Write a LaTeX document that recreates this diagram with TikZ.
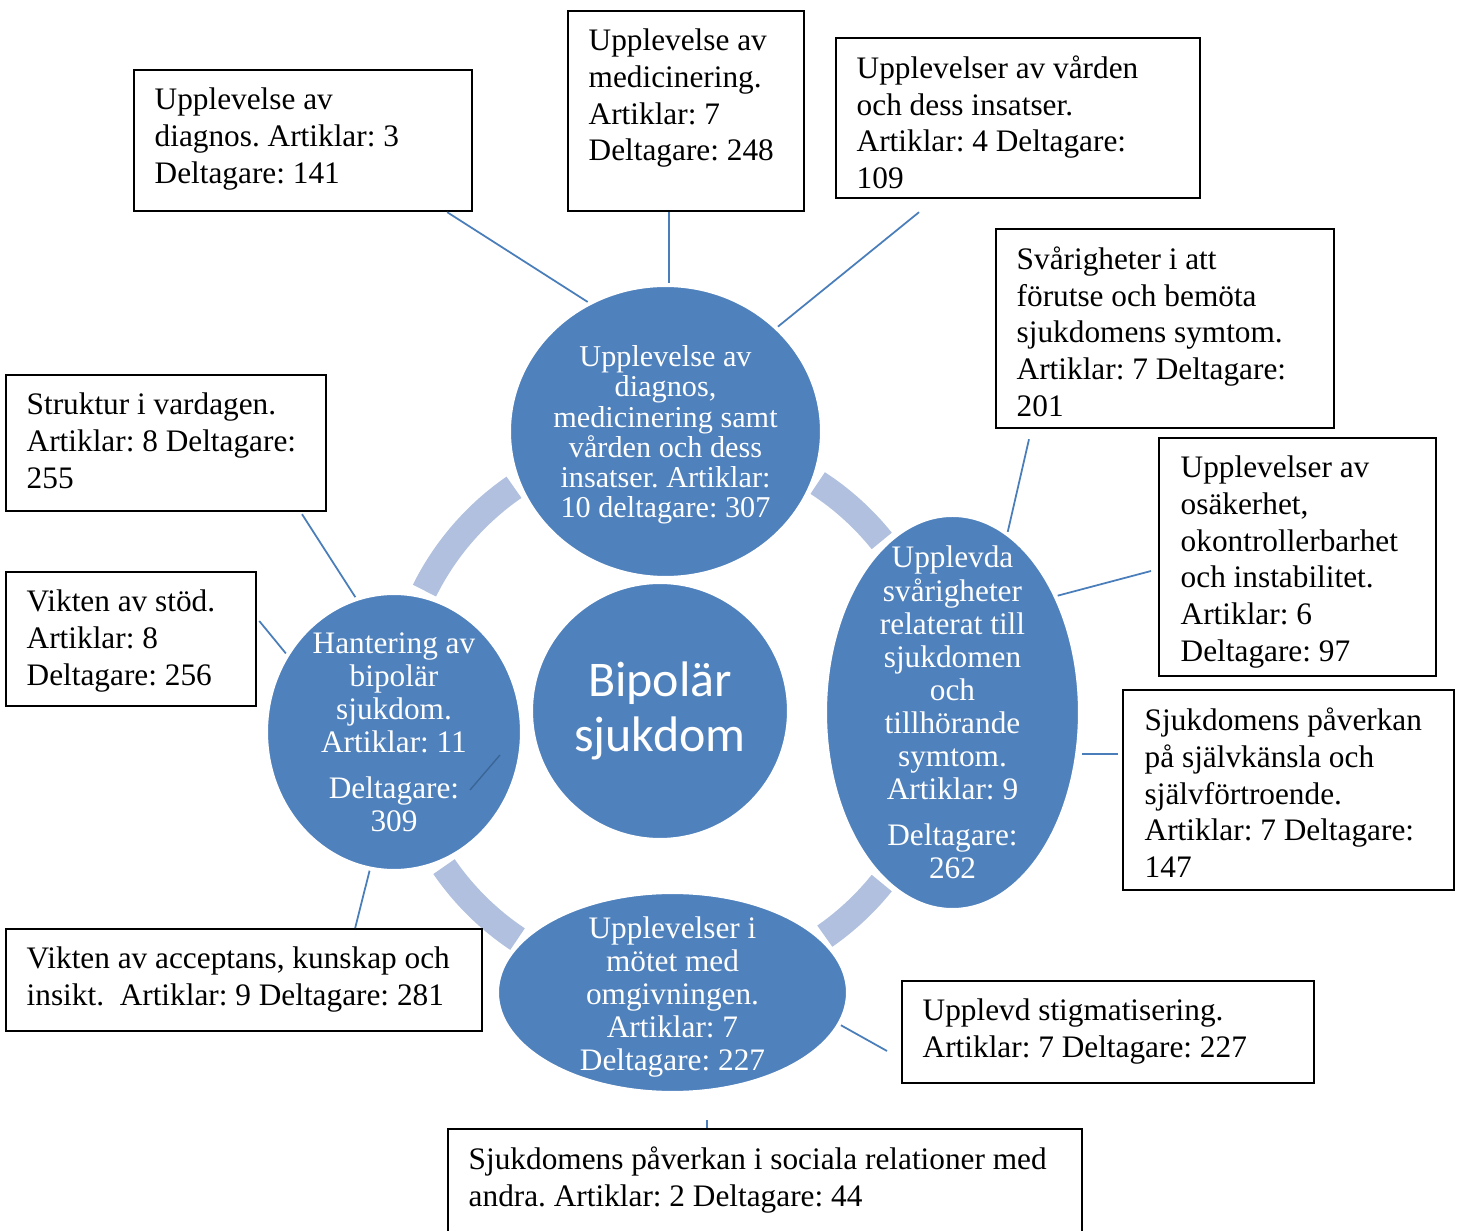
\documentclass[tikz,border=0pt]{standalone}
\usepackage{fontspec}
\setmainfont{Liberation Serif}
\newfontfamily\calibri{Carlito}
\usetikzlibrary{shapes.geometric}
\frenchspacing

\definecolor{circblue}{RGB}{79,129,189}
\definecolor{ringblue}{RGB}{176,192,222}
\definecolor{linkblue}{RGB}{74,126,187}

\tikzset{
    box/.style={draw=black, line width=0.6pt, anchor=north west, inner sep=0pt},
    boxtext/.style={anchor=north west, inner sep=0pt, align=left,
        font=\fontsize{8.9}{10.47}\selectfont, execute at begin node=\strut},
    bubble/.style={ellipse, fill=circblue, draw=white, line width=1.2pt, inner sep=0pt},
    bubbletext/.style={text=white, align=center, inner sep=0pt,
        font=\fontsize{8.9}{9.4}\selectfont},
    link/.style={draw=linkblue, line width=0.5pt},
    ring/.style={draw=ringblue, line width=7.4pt},
}

\begin{document}
\begin{tikzpicture}[x=0.01cm, y=-0.01cm]
        \useasboundingbox (0,0) rectangle (1457,1231);
        \clip (0,0) rectangle (1457,1231);

        % ring pieces between the bubbles
        \coordinate (ring) at (669,712);
        \foreach \a/\b in {124.6/153.6, 38.8/57, 214.5/236.3, 304.8/321.2} {
                \draw[ring] ([shift={(-\a:273)}]ring) arc[start angle=-\a, end angle=-\b, radius=273];
            }

        % bubbles
        \node[bubble, minimum width=3.13cm, minimum height=2.93cm] (upp) at (665.5,431.5) {};
        \node[bubbletext, font=\fontsize{8.6}{8.6}\selectfont] (uppt) at ([yshift=-1pt]upp) {Upplevelse av\\diagnos,\\medicinering samt\\vården och dess\\insatser. Artiklar:\\10 deltagare: 307};
        \node[bubble, minimum width=2.56cm, minimum height=2.78cm] (lft) at (394,732) {};
        \node[bubbletext] (lftt) at (lft) {Hantering av\\bipolär\\sjukdom.\\Artiklar: 11\\[3.7pt]Deltagare:\\309};
        \node[bubble, minimum width=2.55cm, minimum height=3.95cm] (rgt) at (952.5,712.5) {};
        \node[bubbletext] (rgtt) at (rgt) {Upplevda\\svårigheter\\relaterat till\\sjukdomen\\och\\tillhörande\\symtom.\\Artiklar: 9\\[3.7pt]Deltagare:\\262};
        \node[bubble, minimum width=3.51cm, minimum height=2.01cm] (bot) at (672.5,992.5) {};
        \node[bubbletext] (bott) at ([yshift=-1.2pt]bot) {Upplevelser i\\mötet med\\omgivningen.\\Artiklar: 7\\Deltagare: 227};
        \node[bubble, minimum width=2.58cm, minimum height=2.58cm] (bip) at (660,711) {};
        \node[text=white, align=center, inner sep=0pt, font=\calibri\fontsize{14.2}{15.6}\selectfont] (bipt) at (bip) {Bipolär\\sjukdom};

        % boxes
        \node[box, minimum width=3.38cm, minimum height=1.41cm] (b1) at (133,69) {};
        \node[boxtext] (b1t) at ([shift={(21,18)}]b1.north west) {Upplevelse av\\diagnos. Artiklar: 3\\Deltagare: 141};
        \node[box, minimum width=2.36cm, minimum height=2.00cm] (b2) at (567,10) {};
        \node[boxtext] (b2t) at ([shift={(21,18)}]b2.north west) {Upplevelse av\\medicinering.\\Artiklar: 7\\Deltagare: 248};
        \node[box, minimum width=3.64cm, minimum height=1.60cm] (b3) at (835,37) {};
        \node[boxtext] (b3t) at ([shift={(21,18)}]b3.north west) {Upplevelser av vården\\och dess insatser.\\Artiklar: 4 Deltagare:\\109};
        \node[box, minimum width=3.38cm, minimum height=1.99cm] (b4) at (995,228) {};
        \node[boxtext] (b4t) at ([shift={(21,18)}]b4.north west) {Svårigheter i att\\förutse och bemöta\\sjukdomens symtom.\\Artiklar: 7 Deltagare:\\201};
        \node[box, minimum width=2.77cm, minimum height=2.38cm] (b5) at (1158,437) {};
        \node[boxtext] (b5t) at ([shift={(22,18)}]b5.north west) {Upplevelser av\\osäkerhet,\\okontrollerbarhet\\och instabilitet.\\Artiklar: 6\\Deltagare: 97};
        \node[box, minimum width=3.31cm, minimum height=2.00cm] (b6) at (1122,689) {};
        \node[boxtext] (b6t) at ([shift={(22,18)}]b6.north west) {Sjukdomens påverkan\\på självkänsla och\\självförtroende.\\Artiklar: 7 Deltagare:\\147};
        \node[box, minimum width=4.12cm, minimum height=1.02cm] (b7) at (901,980) {};
        \node[boxtext] (b7t) at ([shift={(21,18)}]b7.north west) {Upplevd stigmatisering.\\Artiklar: 7 Deltagare: 227};
        \node[box, minimum width=6.34cm, minimum height=1.40cm] (b8) at (447,1128) {};
        \node[boxtext] (b8t) at ([shift={(21,18)}]b8.north west) {Sjukdomens påverkan i sociala relationer med\\andra. Artiklar: 2 Deltagare: 44};
        \node[box, minimum width=4.76cm, minimum height=1.02cm] (b9) at (5,928) {};
        \node[boxtext] (b9t) at ([shift={(21,18)}]b9.north west) {Vikten av acceptans, kunskap och\\insikt.\ \ Artiklar: 9 Deltagare: 281};
        \node[box, minimum width=2.50cm, minimum height=1.34cm] (b10) at (5,571) {};
        \node[boxtext] (b10t) at ([shift={(21,18)}]b10.north west) {Vikten av stöd.\\Artiklar: 8\\Deltagare: 256};
        \node[box, minimum width=3.20cm, minimum height=1.36cm] (b11) at (5,374) {};
        \node[boxtext] (b11t) at ([shift={(21,18)}]b11.north west) {Struktur i vardagen.\\Artiklar: 8 Deltagare:\\255};

        % links
        \draw[link] ([xshift=3.14cm]b1.south west) -- (upp.121);
        \coordinate (c2) at ([xshift=1.02cm]b2.south west);
        \draw[link] (c2) -- (c2 |- upp.north);
        \draw[link] ([shift={(84,13)}]b3.south west) -- (upp.43);
        \draw[link] ([shift={(34,10)}]b4.south west) -- (rgt.73);
        \draw[link] ([shift={(-7,134)}]b5.north west) -- (rgt.48);
        \coordinate (c6) at ([shift={(-4,65)}]b6.north west);
        \draw[link] (c6) -- (c6 -| rgt.east);
        \draw[link] ([shift={(-14,71)}]b7.north west) -- (bot.-11);
        \coordinate (c8) at ([xshift=2.60cm]b8.north west);
        \draw[link] (c8) -- ([yshift=-7]c8 |- bot.south);
        \draw[link] ([xshift=3.50cm]b9.north west) -- (lft.-100);
        \draw[link] ([shift={(2,50)}]b10.north east) -- (lft.144);
        \draw[link] ([shift={(297,2)}]b11.south west) -- (lft.106);
        \draw[link, draw=linkblue!80!black, line width=0.4pt] ([shift={(76,58)}]lft.center) -- ([shift={(106,23)}]lft.center);
    \end{tikzpicture}
\end{document}
